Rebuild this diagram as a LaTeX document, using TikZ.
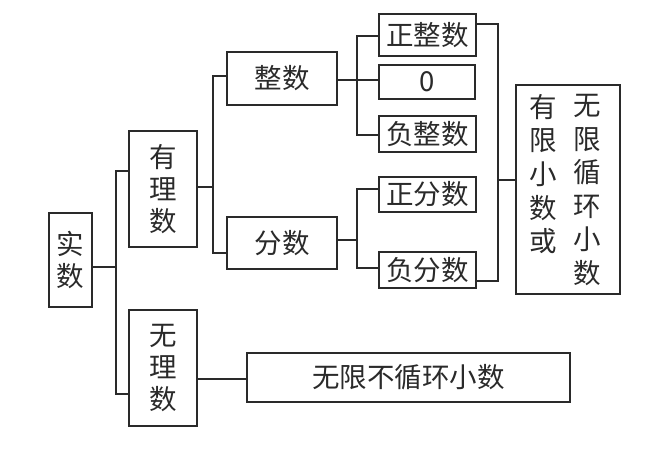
\documentclass[tikz,border=0pt]{standalone}
\usepackage{fontspec}
\setmainfont{Noto Sans CJK SC}
\definecolor{ink}{HTML}{2A2A2A}
\begin{document}
\begin{tikzpicture}[x=1pt,y=-1pt,
  box/.style={draw=ink,line width=1.5pt,inner sep=0pt,minimum width=#1},
  conn/.style={draw=ink,line width=1.5pt},
  txt/.style={text=ink,font=\fontsize{27.5}{32}\selectfont},
  vtxt/.style={txt,align=center}]
\useasboundingbox (0,0) rectangle (650,449);
% boxes
\node[box=43pt,minimum height=94pt,vtxt] (shishu) at (70.5,260) {实\\数};
\node[box=68pt,minimum height=116pt,vtxt] (youli) at (163,189) {有\\理\\数};
\node[box=68pt,minimum height=116pt,vtxt] (wuli) at (163,368) {无\\理\\数};
\node[box=110pt,minimum height=53pt,txt] (zhengshu) at (282,78.5) {整数};
\node[box=110pt,minimum height=52pt,txt] (fenshu) at (282,243) {分数};
\node[box=97pt,minimum height=42pt,txt] (zzs) at (427.5,35) {正整数};
\node[box=96pt,minimum height=34pt,txt] (zero) at (427,82) {0};
\node[box=97pt,minimum height=36pt,txt] (fzs) at (427.5,134) {负整数};
\node[box=97pt,minimum height=35pt,txt] (zfs) at (427.5,194.5) {正分数};
\node[box=97pt,minimum height=36pt,txt] (ffs) at (427.5,270) {负分数};
\node[box=104pt,minimum height=209pt] (big) at (568,189.5) {};
\node[box=323pt,minimum height=49pt,txt] (wbxh) at (408.5,377.5) {无限不循环小数};
% text in big box
\node[vtxt,font=\fontsize{27.5}{33.6}\selectfont,anchor=north,inner sep=0pt] (colL) at (543,94) {有\\限\\小\\数\\或};
\node[vtxt,font=\fontsize{27.5}{33.6}\selectfont,anchor=north,inner sep=0pt] (colR) at (587,94) {无\\限\\循\\环\\小\\数};
% coordinates
\coordinate (a1) at (116,267);
\coordinate (a1t) at (116,171);
\coordinate (a1b) at (116,394);
\coordinate (a2) at (213,187);
\coordinate (a2t) at (213,76);
\coordinate (a2b) at (213,253);
\coordinate (a3) at (357,80);
\coordinate (a3t) at (357,36);
\coordinate (a3b) at (357,135);
\coordinate (a4) at (357,240);
\coordinate (a4t) at (357,189);
\coordinate (a4b) at (357,268);
\coordinate (a5) at (498,180);
\coordinate (a5t) at (498,24);
\coordinate (a5b) at (498,281);
\coordinate (a6) at (0,379);
% connectors
\draw[conn] (shishu.east |- a1) -- (a1);
\draw[conn] (youli.west |- a1t) -- (a1t) -- (a1b) -- (wuli.west |- a1b);
\draw[conn] (youli.east |- a2) -- (a2);
\draw[conn] (zhengshu.west |- a2t) -- (a2t) -- (a2b) -- (fenshu.west |- a2b);
\draw[conn] (zhengshu.east |- a3) -- (zero.west |- a3);
\draw[conn] (zzs.west |- a3t) -- (a3t) -- (a3b) -- (fzs.west |- a3b);
\draw[conn] (fenshu.east |- a4) -- (a4);
\draw[conn] (zfs.west |- a4t) -- (a4t) -- (a4b) -- (ffs.west |- a4b);
\draw[conn] (zzs.east |- a5t) -- (a5t) -- (a5b) -- (ffs.east |- a5b);
\draw[conn] (a5) -- (big.west |- a5);
\draw[conn] (wuli.east |- a6) -- (wbxh.west |- a6);
\end{tikzpicture}
\end{document}
